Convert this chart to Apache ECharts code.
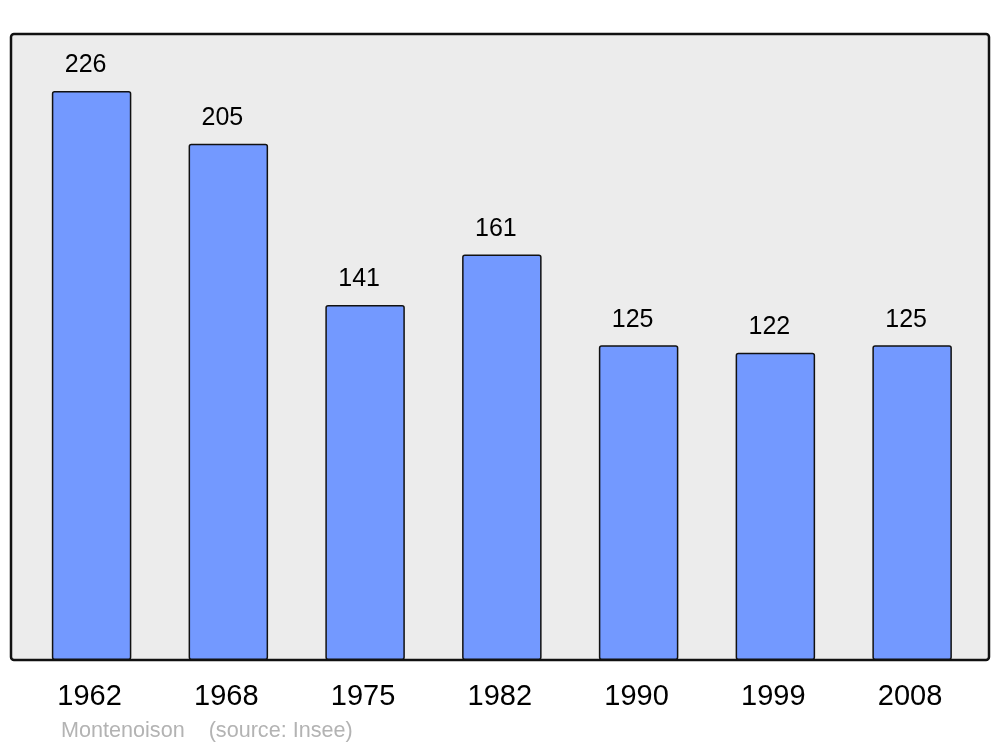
<!DOCTYPE html>
<html><head><meta charset="utf-8">
<script src="https://cdn.jsdelivr.net/npm/echarts@6/dist/echarts.min.js"></script>
<style>html,body{margin:0;padding:0;background:#fff}#c{width:1000px;height:747px}</style>
</head><body><div id="c"></div>
<script>
const years = ['1962','1968','1975','1982','1990','1999','2008'];
const population = [226,205,141,161,125,122,125];
const footer = 'Montenoison    (source: Insee)';

const chart = echarts.init(document.getElementById('c'), null, {renderer:'canvas'});
chart.setOption({
  animation:false,
  textStyle:{fontFamily:'Liberation Sans, Arial, sans-serif'},
  graphic:[
    {type:'rect', z:-10, shape:{x:11,y:34,width:978,height:626,r:3},
     style:{fill:'#ececec', stroke:'#111', lineWidth:2.5}},
    {type:'text', left:61, top:720, style:{text:footer, fill:'#b3b3b3', font:'21.6px "Liberation Sans", Arial, sans-serif'}}
  ],
  grid:{left:23.2, right:19.5, top:34, bottom:87},
  xAxis:{type:'category', data:years,
    axisLine:{show:false}, axisTick:{show:false},
    axisLabel:{color:'#000', fontSize:29, margin:22, padding:[0,4,0,0]}},
  yAxis:{type:'value', min:0, max:248.6, show:false, splitLine:{show:false}},
  series:[{type:'bar', data:population, barWidth:79.5,
    itemStyle:{color:'#7399ff', borderColor:'#111', borderWidth:1.5, borderRadius:2},
    label:{show:true, position:'top', distance:13, offset:[-6,0], color:'#000', fontSize:25}
  }]
});
</script></body></html>
